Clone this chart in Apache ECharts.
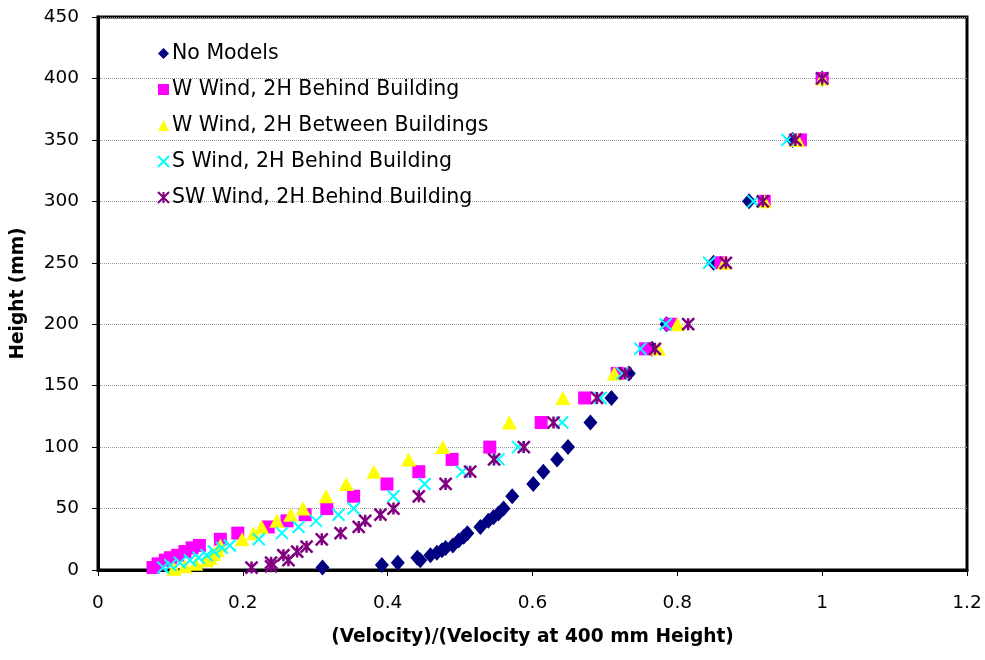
<!DOCTYPE html>
<html>
<head>
<meta charset="utf-8">
<script src="https://cdn.jsdelivr.net/npm/echarts@6/dist/echarts.min.js"></script>
<style>html,body{margin:0;padding:0;background:#fff}#chart{width:985px;height:660px}</style>
</head>
<body>
<div id="chart"></div>
<script>
// ---- data ----
var seriesNames = ['No Models', 'W Wind, 2H Behind Building', 'W Wind, 2H Between Buildings', 'S Wind, 2H Behind Building', 'SW Wind, 2H Behind Building'];

var noModelsX = [0.31,0.392,0.414,0.445,0.441,0.459,0.468,0.475,0.48,0.49,0.498,0.505,0.51,0.528,0.539,0.546,0.553,0.56,0.572,0.601,0.615,0.634,0.649,0.68,0.709,0.733,0.765,0.785,0.85,0.899,0.959,1.0];
var noModelsY = [2,4,6,8,10,12,14,16,18,20,24,27,30,35,40,43,46,50,60,70,80,90,100,120,140,160,180,200,250,300,350,400];

var wBehindX = [0.076,0.083,0.093,0.10,0.11,0.12,0.13,0.14,0.169,0.193,0.235,0.261,0.286,0.316,0.353,0.399,0.443,0.489,0.541,0.612,0.672,0.717,0.756,0.791,0.86,0.92,0.97,1.0];
var wBehindY = [2,5,8,10,12,15,18,20,25,30,35,40,45,50,60,70,80,90,100,120,140,160,180,200,250,300,350,400];

var wBetweenX = [0.105,0.12,0.135,0.15,0.155,0.16,0.165,0.169,0.199,0.215,0.226,0.247,0.266,0.283,0.315,0.343,0.381,0.429,0.476,0.568,0.642,0.713,0.774,0.80,0.865,0.92,0.966,1.0];
var wBetweenY = [1,3,5,8,10,13,16,20,25,30,35,40,45,50,60,70,80,90,100,120,140,160,180,200,250,300,350,400];

var sBehindX = [0.09,0.10,0.113,0.127,0.139,0.15,0.16,0.171,0.182,0.222,0.254,0.277,0.301,0.332,0.353,0.408,0.451,0.503,0.553,0.58,0.641,0.694,0.724,0.749,0.784,0.844,0.905,0.952,1.0];
var sBehindY = [2,4,6,8,10,12,15,18,20,25,30,35,40,45,50,60,70,80,90,100,120,140,160,180,200,250,300,350,400];

var swBehindX = [0.212,0.239,0.239,0.263,0.256,0.275,0.288,0.309,0.335,0.36,0.369,0.39,0.408,0.443,0.48,0.514,0.547,0.588,0.629,0.689,0.728,0.769,0.815,0.867,0.918,0.963,1.0];
var swBehindY = [2,3,6,8,12,15,19,25,30,35,40,45,50,60,70,80,90,100,120,140,160,180,200,250,300,350,400];

// ---- build ----
function pairs(xs, ys) { return xs.map(function (x, i) { return [x, ys[i]]; }); }

var FONT = 'DejaVu Sans';
var xPath = 'path://M0,0L10,10M10,0L0,10';
var starPath = 'path://M0,0L10,10M10,0L0,10M5,0L5,10';

var chart = echarts.init(document.getElementById('chart'));
chart.setOption({
  animation: false,
  backgroundColor: '#fff',
  textStyle: { fontFamily: FONT },
  grid: { left: 98, right: 18, top: 17, bottom: 90, show: true, borderColor: '#000', borderWidth: 3, backgroundColor: 'transparent' },
  legend: {
    orient: 'vertical', left: 152, top: 38,
    itemWidth: 11, itemHeight: 11, itemGap: 15,
    textStyle: { fontFamily: FONT, fontSize: 20.5, color: '#000', lineHeight: 21, padding: [0, 0, 0, -2] },
    data: seriesNames
  },
  xAxis: {
    type: 'value', min: 0, max: 1.2, interval: 0.2,
    name: '(Velocity)/(Velocity at 400 mm Height)', nameLocation: 'middle', nameGap: 58,
    nameTextStyle: { fontFamily: FONT, fontSize: 18.6, fontWeight: 'bold', color: '#000' },
    axisLine: { lineStyle: { color: '#000', width: 3 } },
    axisTick: { show: true, length: 6, lineStyle: { color: '#000', width: 1 } },
    axisLabel: { fontFamily: FONT, fontSize: 18.5, color: '#000', margin: 24 },
    splitLine: { show: false }
  },
  yAxis: {
    type: 'value', min: 0, max: 450, interval: 50,
    name: 'Height (mm)', nameLocation: 'middle', nameGap: 70,
    nameTextStyle: { fontFamily: FONT, fontSize: 18.6, fontWeight: 'bold', color: '#000' },
    axisLine: { lineStyle: { color: '#000', width: 3 } },
    axisTick: { show: true, length: 6, lineStyle: { color: '#000', width: 1 } },
    axisLabel: { fontFamily: FONT, fontSize: 18.5, color: '#000', margin: 19 },
    splitLine: { show: true, lineStyle: { color: '#999', width: 1, type: 'dotted' } }
  },
  series: [
    { name: seriesNames[0], type: 'scatter', symbol: 'diamond', symbolSize: [14, 16], itemStyle: { color: '#000080', opacity: 1 }, data: pairs(noModelsX, noModelsY) },
    { name: seriesNames[1], type: 'scatter', symbol: 'rect', symbolSize: 13, itemStyle: { color: '#ff00ff', opacity: 1 }, data: pairs(wBehindX, wBehindY) },
    { name: seriesNames[2], type: 'scatter', symbol: 'triangle', symbolSize: [15, 14], itemStyle: { color: '#ffff00', opacity: 1 }, data: pairs(wBetweenX, wBetweenY) },
    { name: seriesNames[3], type: 'scatter', symbol: xPath, symbolSize: 12, itemStyle: { color: 'rgba(0,0,0,0)', borderColor: '#00ffff', borderWidth: 2, opacity: 1 }, data: pairs(sBehindX, sBehindY) },
    { name: seriesNames[4], type: 'scatter', symbol: starPath, symbolSize: 12, itemStyle: { color: 'rgba(0,0,0,0)', borderColor: '#800080', borderWidth: 2.5, opacity: 1 }, data: pairs(swBehindX, swBehindY) }
  ]
});
</script>
</body>
</html>
